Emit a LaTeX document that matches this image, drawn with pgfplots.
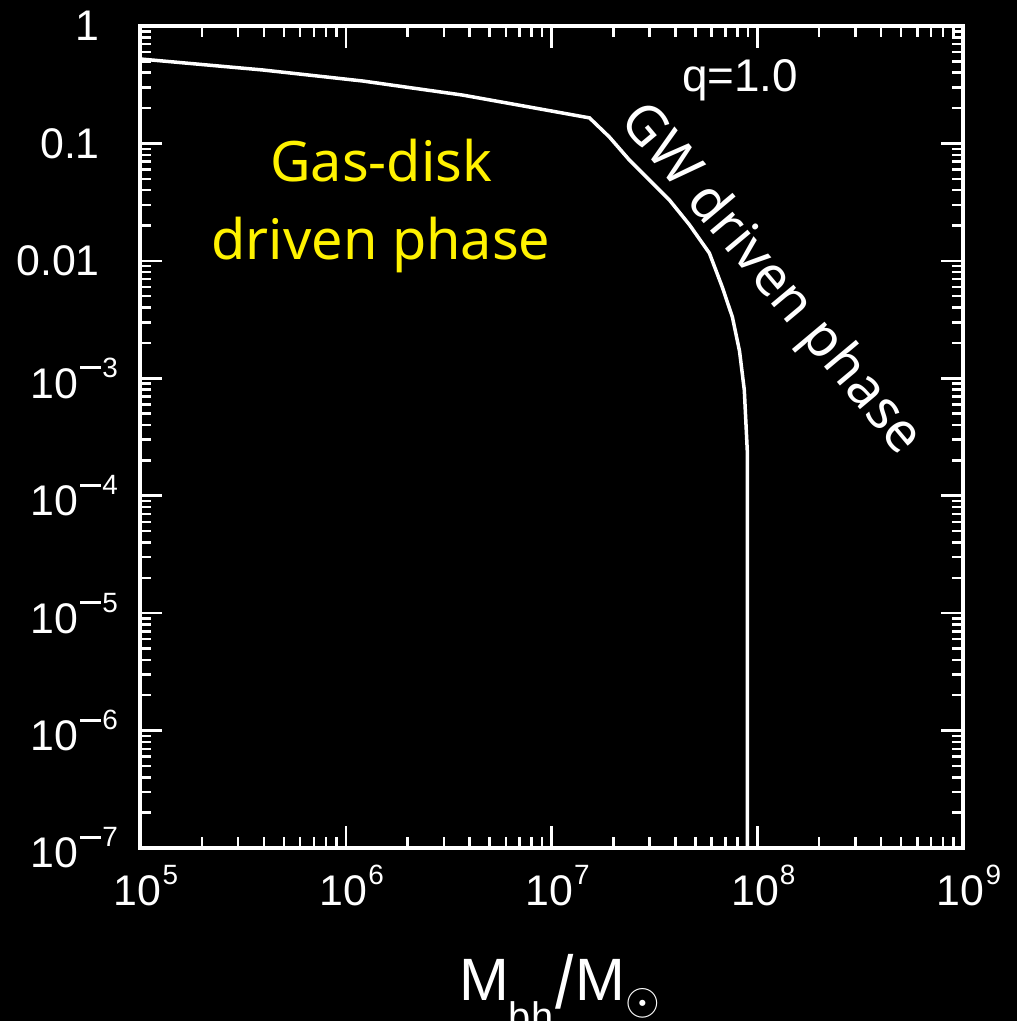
\documentclass[border=0pt]{standalone}
\usepackage{fontspec}
\setmainfont{Liberation Sans}
\newfontfamily\noto{Noto Sans}
\usepackage{pgfplots}
\pgfplotsset{compat=1.18}
\newcommand{\pw}[1]{10\raisebox{21bp}{\fontsize{28}{28}\selectfont\kern1bp #1}}
\newcommand{\pwm}[1]{10\raisebox{21bp}{\fontsize{28}{28}\selectfont\kern2bp\rule[8bp]{21bp}{3bp}\kern1bp #1}}
\newcommand{\pad}[1]{#1\rule{18bp}{0bp}}
\begin{document}
\begin{tikzpicture}[x=1bp,y=1bp]
\useasboundingbox (0,0) rectangle (1017,1021);
\fill[black] (0,0) rectangle (1017,1021);
\clip (0,0) rectangle (1017,1021);
\begin{axis}[
  at={(140bp,173bp)}, anchor=south west,
  scale only axis, width=823bp, height=822bp,
  xmode=log, ymode=log,
  xmin=1e5, xmax=1e9, ymin=1e-7, ymax=1,
  axis line style={white, line width=3.5bp},
  tick style={white, line width=2.5bp},
  tick align=inside,
  major tick length=22bp, minor tick length=11bp,
  xtick pos=both, ytick pos=both,
  xticklabel pos=lower, yticklabel pos=left,
  xtick={1e5,1e6,1e7,1e8,1e9},
  xticklabels={\pw{5},\pw{6},\pw{7},\pw{8},\pw{9}},
  ytick={1e-7,1e-6,1e-5,1e-4,1e-3,1e-2,1e-1,1},
  yticklabels={\pwm{7},\pwm{6},\pwm{5},\pwm{4},\pwm{3},\pad{0.01},\pad{0.1},\pad{1}},
  ticklabel style={font=\fontsize{43}{43}\selectfont, text=white, inner sep=0pt},
  xticklabel style={anchor=north, yshift=-17bp, xshift=6bp},
  yticklabel style={anchor=east, xshift=-22bp},
  xlabel={M\raisebox{-30bp}{\fontsize{40}{40}\selectfont bh}\kern2bp\raisebox{-8bp}{\scalebox{1.1}[1.25]{/}}\kern2bp M\raisebox{-14bp}{\scalebox{1.8}{$\odot$}}},
  xlabel style={font=\fontsize{60}{60}\selectfont, text=white, inner sep=0pt,
    at={(axis description cs:0.5,0)}, anchor=base, yshift=-152bp, xshift=8bp},
  clip=false,
]
\addplot[white, line width=3.5bp] coordinates {
  (1e5,0.524) (3.96e5,0.422) (1.21e6,0.340) (3.70e6,0.258) (7.82e6,0.204)
  (1.53e7,0.165) (1.91e7,0.1135) (2.39e7,0.0722) (2.99e7,0.0488)
  (3.74e7,0.0330) (4.68e7,0.0203) (5.85e7,0.01165) (6.76e7,5.98e-3)
  (7.57e7,3.32e-3) (8.2e7,1.7e-3) (8.65e7,7.93e-4) (8.94e7,2.44e-4)
  (8.94e7,1e-7)
};
\end{axis}
\node[text=white, font=\fontsize{46}{46}\selectfont, anchor=center] at (740,941) {q=1.0};
\node[text=yellow, font=\noto\fontsize{56}{56}\selectfont, anchor=base] at (381,839) {Gas-disk};
\node[text=yellow, font=\noto\fontsize{56}{56}\selectfont, anchor=base] at (381,761) {driven phase};
\node[text=white, font=\noto\fontsize{55}{55}\selectfont, anchor=center, rotate=-50] at (770,741) {GW driven phase};
\end{tikzpicture}
\end{document}
